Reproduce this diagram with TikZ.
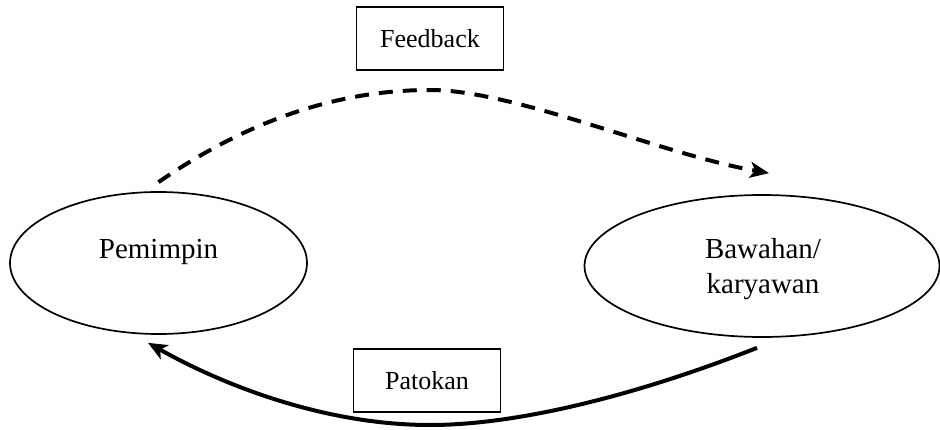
\documentclass[tikz,border=0pt]{standalone}
\usepackage{fontspec}
\setmainfont{Liberation Serif}
\usetikzlibrary{arrows.meta,calc,shapes.geometric}
\begin{document}
\begin{tikzpicture}[x=1pt,y=1pt,
  oval/.style={draw, line width=1.7pt, ellipse, inner sep=0pt},
  labelbox/.style={draw, line width=1.5pt, inner sep=0pt, minimum width=147pt, minimum height=63pt},
  txt/.style={font=\fontsize{29}{35}\selectfont, inner sep=0pt, align=center},
  boxtxt/.style={font=\fontsize{26}{31}\selectfont},
  tip/.style={-{Stealth[length=19pt,width=16pt,inset=5pt]}},
  fb/.style={tip, line width=4pt, dash pattern=on 14pt off 10pt},
  pt/.style={tip, line width=4pt}]
\useasboundingbox (0,0) rectangle (940,429);
\node[oval, minimum width=297pt, minimum height=142pt] (pem) at (158.5,166) {};
\node[oval, minimum width=355pt, minimum height=142pt] (baw) at (762,163) {};
\node[txt, anchor=base] (pemt) at (158.5,171) {Pemimpin};
\node[txt] (bawt) at (763,160) {Bawahan/\\karyawan};
\node[labelbox, txt, boxtxt] (feed) at (430,390.5) {Feedback};
\node[labelbox, txt, boxtxt] (pat) at (427,48.5) {Patokan};
\coordinate (fs) at ($(pem.north)+(0,9)$);
\coordinate (fe) at ($(baw.north)+(7,21)$);
\coordinate (ps) at ($(baw.south)+(-5,-10)$);
\coordinate (pe) at ($(pem.south)+(-10.5,-8)$);
\draw[fb] (fs) .. controls (250,310) and (340,339) .. (430,339)
  .. controls (515,339) and (660,275) .. (fe);
\draw[pt] (ps) .. controls (640,35) and (520,4) .. (430,4)
  .. controls (330,4) and (230,40) .. (pe);
\end{tikzpicture}
\end{document}
